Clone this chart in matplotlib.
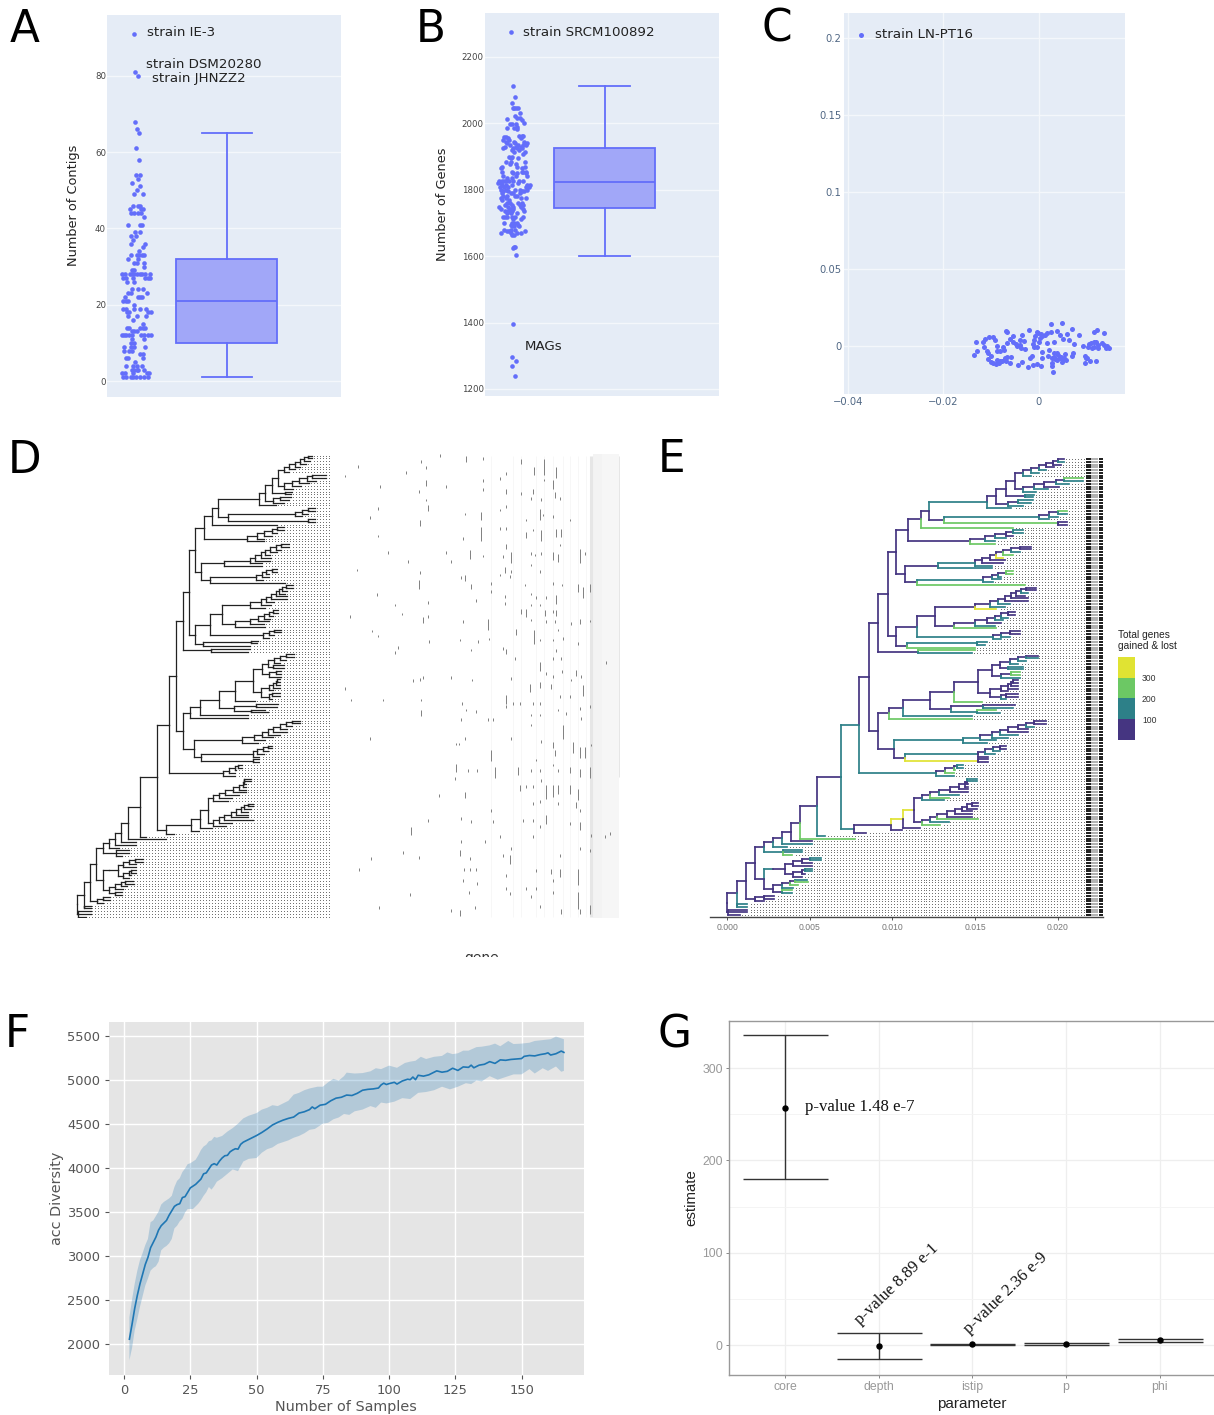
# composite figure, panels A-G
import numpy as np
import matplotlib
matplotlib.use('Agg')
import matplotlib.pyplot as plt
from matplotlib.colors import ListedColormap
from matplotlib.patches import Rectangle

W, H = 1214, 1415

# --- panel A: contigs per genome, value -> strip offsets
A_strip = {91: [-4], 81: [0], 80: [8], 68: [0], 66: [7], 65: [13], 61: [2], 58: [13], 54: [4, 14], 53: [9], 52: [-9],
           51: [16], 50: [6], 49: [-4, 25], 46: [-5, 8, 14], 45: [-14, 18, 23], 44: [-13, -2, 10, 18], 43: [28],
           41: [-22, 14, 20], 39: [0, 14], 38: [-12, 3], 37: [-5], 36: [-11, 30], 35: [25], 34: [12],
           33: [-11, 5, 12, 20, 28], 32: [-21, 10], 31: [-3, 5, 27], 30: [28], 29: [-10, -2],
           28: [-38, -30, -14, -8, -3, 5, 14, 22, 30, 44], 27: [-35, -28, -5, 30, 38, 46], 26: [-25, -2],
           24: [-10, 9, 25], 23: [-22, -11, 35], 22: [-30, 8, 14, 22], 21: [-35, -28, -22], 20: [-2],
           19: [-35, -27, -2, 15, 33], 18: [-25, -18, 40, 48], 17: [-22, 6, 32], 16: [-5], 15: [24],
           14: [-25, -18, 16, 24, 30], 13: [-10, -2, 5], 12: [-40, -33, -26, -18, -8, 18, 28, 40, 48], 11: [-8, 28],
           10: [-12, -2], 9: [-32, -12, -3, 30], 8: [-32, -18, -8], 7: [14, 23], 6: [-27, -20, 24], 5: [0],
           4: [-28, -5, 5, 20], 3: [-10, -3, 5, 10, 26], 2: [-40, -30, -5, 35, 42],
           1: [-35, -28, -12, -5, 2, 15, 28, 38]}
A_box = dict(whislo=1, q1=10, med=21, q3=32, whishi=65, fliers=[])
A_ticks = [0, 20, 40, 60, 80]

# --- panel B: genes per genome
B_strip = {2274: [-6], 2114: [-2], 2079: [6], 2060: [-3], 2047: [-2, 3], 2045: [8, 13], 2030: [20], 2021: [5],
           2015: [11, 20], 2012: [-20], 2010: [25], 2001: [33], 1999: [-10, -3, 8], 1990: [10], 1985: [-20, 2],
           1982: [12], 1962: [18, 25, 30], 1958: [-28, -22], 1955: [-16, 22], 1950: [-30, -12], 1945: [-22, 2, 33],
           1940: [-18, 5, 40], 1935: [-10, 15, 30, 38], 1930: [-25, 8, 22], 1925: [-30, -2, 12, 25], 1920: [-5, 18],
           1915: [3, 35], 1908: [28], 1900: [-12, -5], 1895: [-8, 15], 1885: [-22, -8, 35], 1878: [-10, 8],
           1870: [-33, 10, 35], 1865: [-36, 25], 1855: [-35, -5, 25, 30, 38], 1850: [0, 12, 38], 1843: [-30, 8, 42],
           1835: [-20, -5], 1828: [-22, 18, 28], 1825: [-42, -35, -28, -12, 0], 1820: [-45, -38, 15],
           1815: [-35, -22, -5, 50, 42], 1808: [-40, -28, -15, 38, 48], 1800: [-38, -22, 5, 20, 42],
           1795: [-30, -15, 25, 32], 1790: [-35, -8, -2, 20], 1780: [-30, -20, 5, 12], 1775: [-38, -22, 22, 38],
           1770: [-35, -12], 1760: [-18, -10, 15, 25], 1755: [-25, -5, 20, 30], 1748: [-42, -15, -2, 22],
           1742: [-36, -10, 0, 28], 1735: [-25, -15, -5, 32], 1730: [-20, -8, 10], 1718: [-30, -25, -18, -3, 5, 28],
           1712: [0, 24], 1700: [-28, -5, 3, 10], 1695: [-8, -2, 15], 1690: [-3, 2, 18], 1680: [-28, -8, 5],
           1675: [-18, -12, 35], 1670: [-38, -8, 10, 22], 1665: [-3, 3], 1628: [2, 6], 1626: [-2], 1603: [7],
           1397: [0], 1295: [-5], 1285: [8], 1270: [-3], 1238: [6]}
B_box = dict(whislo=1602, q1=1745, med=1823, q3=1927, whishi=2114, fliers=[])
B_ticks = [1200, 1400, 1600, 1800, 2000, 2200]

# --- panel C: PCoA, values in 1e-3
C_x = [-37.3, -13.6, -12.9, -13.2, -11.4, -11.6, -11.2, -10.5, -9.6, -9.1, -10.9, -10.6, -10, -10.6, -10, -8.8, -8.3,
       -7.7, -7.3, -7.4, -8.7, -8.8, -8.1, -6.6, -6, -5.3, -6.9, -6.6, -3.4, -5.9, -6.7, -6.1, -6.8, -4.3, -3.4, -5.3,
       -4.6, -3.9, -3.6, -2.9, -2.1, -2.2, -1.1, -0.3, 0.4, -1.8, -1.3, -1, -0.3, -1, -0.7, -0.4, -0.1, 0.8, 1.7, 2.5,
       2.6, 4.9, 3.9, 4.5, 5.2, 6, 7, 8.4, 7.4, 6.4, 3.2, 1.8, 0.1, 0.8, 0.8, 2.2, 2, 2.7, 3.8, 3.2, 4.1, 2.7, 2.9, 3,
       3.8, 4.8, 5.7, 4.7, 5.6, 7, 7.3, 9.2, 10.4, 10.9, 11.5, 12, 12.5, 13.2, 13.6, 14.1, 14.7, 11.7, 12.3, 13.7, 9.8,
       10.2, 9.8, 10.8, 12, 11.1, 3.3, 3.5, 4.4, 5, 5.4, -9.5, -9, -8, -7, -7, -4.8, -4, -3, -1.2, 0.3, 0.5, 1.3, 10.5,
       11.5, 12.5, 14.3, 10]
C_y = [202.4, -5.7, -3, 2.4, -0.4, 2.4, 4.8, 5.7, 6, 3.9, -3, -4.8, -6.5, -8.7, -10.4, -9.1, -11.3, -9.6, -2.6, -0.4, 0,
       -3, -3, 2.2, 4.3, 6.5, 9.6, 8.9, 7, -7, -7.4, -11.3, -9.6, -12.4, -10.7, 2.8, 0, 3.9, -1.1, -2.2, 10.4, -13.5,
       -12.4, -12, -13, -7.6, -6.3, -0.4, -0.4, 3.9, 6.5, 9.3, 8.3, 6.5, 8.3, 9.3, 14.3, 14.8, 10, 7.2, 4.3, 7.6, 10.9,
       7.2, 1.3, 3.9, 2.4, 1.7, 2.8, -4.1, -7.6, -2.6, -6.5, -7.6, -4.8, -4.8, -5.9, -11.3, -12.8, -17.2, -9.1, -10.2,
       -9.1, -7, -5.2, -6.5, -4.3, 0.2, -0.4, 1.7, 2.8, 2.8, -1.5, 1.7, 0.7, -1.1, -1.1, 9.4, 10.2, 8.3, -6.5, -8,
       -11.3, -9.8, -9.6, -1.5, -7, -8.5, -8, -8.7, -7.5, -10.8, -12, -10, -9, -7.5, 1.5, 0.5, 3, 1.2, 5, 8, 7, 1, -0.5,
       0.8, -0.2, -7.5]
C_yticks = [0, 0.05, 0.1, 0.15, 0.2]
C_ylabels = ['0', '0.05', '0.1', '0.15', '0.2']
C_xticks = [-0.04, -0.02, 0]
C_xlabels = ['\u22120.04', '\u22120.02', '0']

# --- panels D and E: core gene tree. depth in 1e-3 substitutions.
# leaf = (depth, colour), node = (depth, colour, [children]), children top to bottom
P, T, G, Y = 0, 1, 2, 3
gain_colors = ['#453581', '#2d8088', '#6cc864', '#e0e333']
gain_levels = [100, 200, 300]


def ladder(spine, tips, stem=P):
    # spine nodes going up and right, one tip drops off each of them
    node = (spine[-1], P, [tips[0], tips[1]])
    for i in range(len(spine) - 2, -1, -1):
        node = (spine[i], P, [node, tips[len(spine) - i]])
    return (node[0], stem, node[2])


top1 = ladder([17.9, 18.4, 18.9, 19.3, 19.7, 20.0],
              [(20.4, P), (20.4, T), (20.2, P), (19.8, P), (19.3, T), (18.9, T), (18.4, T)])
top2 = ladder([17.9, 18.6, 19.2, 19.9, 20.4],
              [(21.55, G), (21.55, T), (20.7, T), (20.1, P), (19.4, T), (18.7, T)])
c03a = (18.0, P, [(18.6, T), (18.5, T)])
c03b = ladder([17.0, 17.6], [(18.5, T), (18.4, T), (17.9, T)])
n17 = (17.4, P, [top1, top2])
n169 = (16.9, P, [n17, c03a])
n163 = (16.3, P, [n169, c03b])
n157 = (15.75, T, [n163, (17.2, T)])
c04up = ladder([18.9, 19.5, 20.0], [(20.6, G), (20.6, T), (20.0, T), (19.5, T)], stem=T)
c04 = (13.1, P, [c04up, (20.0, G, [(20.6, P), (20.6, P)])])
n122 = (12.2, P, [n157, c04])
n117 = (11.7, P, [n122, (17.3, G)])
c06up = ladder([15.6, 16.2, 16.9, 17.3], [(17.9, T), (17.9, T), (17.3, P), (16.9, T), (16.2, T)])
c06 = (14.7, P, [c06up, (16.2, G)])
n1095 = (10.95, P, [n117, c06])
c07up = ladder([15.0, 15.4, 15.9, 16.3, 16.7, 17.2, 17.7],
               [(18.4, P), (18.4, P), (17.7, T), (17.3, G), (16.7, Y), (16.8, P), (16.7, P), (16.0, T)], stem=T)
c07 = (12.76, P, [c07up, (16.0, T)])
c08up = ladder([15.5, 16.0, 16.4, 16.9], [(17.3, G), (17.3, G), (16.6, T), (16.6, T), (16.1, T)], stem=T)
c08 = (11.5, P, [c08up, (18.0, G)])
n1077 = (10.77, P, [c07, c08])
n1024 = (10.24, P, [n1095, n1077])
c09 = ladder([15.0, 15.9, 16.4, 16.8, 17.2, 17.5, 17.8, 18.1],
             [(18.7, P), (18.7, P), (18.2, T), (18.0, P), (18.2, P), (18.2, P), (17.1, T), (16.8, T), (16.3, Y)])
c10up = ladder([15.0, 15.7, 16.2, 16.6, 17.0],
               [(17.4, P), (17.4, P), (17.0, T), (16.7, T), (16.6, P), (16.2, T)])
c10 = (13.7, P, [c10up, (16.3, G)])
n1256 = (12.56, P, [c09, c10])
c11 = ladder([16.1, 16.6, 17.1], [(17.7, P), (17.7, P), (17.1, T), (16.6, T)], stem=T)
n115 = (11.5, P, [n1256, c11])
c12 = (10.9, P, [(15.1, T, [(15.7, T), (15.6, T)]), (15.0, G)])
n1024b = (10.24, P, [n115, c12])
n97 = (9.7, P, [n1024, n1024b])
c_lone = (11.57, P, [(15.0, G), (14.8, T)])
n915 = (9.15, P, [n97, c_lone])
u1 = ladder([17.1, 17.6, 18.1], [(18.8, P), (18.8, T), (18.1, T), (17.6, T)])
u2 = (17.0, P, [(17.9, T), (17.9, T)])
u3 = ladder([16.6, 17.2], [(17.7, G), (17.7, G), (17.7, T)])
c13up = (16.0, P, [(16.5, P, [u1, u2]), u3])
c13low1 = ladder([16.6, 17.0, 17.2, 17.3], [(17.6, P), (17.6, P), (17.6, P), (17.6, P), (17.0, P)])
c13low2 = ladder([16.6, 16.9], [(17.6, P), (17.6, P), (16.9, T)])
c13low = (15.9, P, [c13low1, c13low2])
c13a = (13.7, P, [(15.2, P, [c13up, c13low]), (15.4, G)])
c13b = (13.57, P, [(15.5, P, [(17.4, P), (17.3, T)]), (15.1, T, [(16.3, G), (16.5, T)])])
n1226 = (12.26, P, [c13a, c13b])
n1065 = (10.65, P, [n1226, (14.8, T)])
n98 = (9.8, P, [n1065, (14.8, G)])
c14a_up = ladder([15.3, 16.0, 16.5, 17.0, 17.6, 18.1, 18.6],
                 [(19.3, P), (19.3, P), (18.6, T), (18.2, P), (18.2, P), (17.6, T), (17.0, T), (16.3, T)], stem=T)
c14a = (14.3, T, [c14a_up, (15.7, T)])
c14b_up = ladder([15.2, 15.6, 16.1, 16.5], [(16.9, P), (16.9, P), (16.5, T), (16.2, T), (15.8, P)], stem=T)
c14b = (10.75, P, [c14b_up, (15.2, Y, [(15.8, P), (15.8, P)])])
n101 = (10.1, P, [c14a, c14b])
n915b = (9.15, P, [n98, n101])
n86 = (8.6, P, [n915, n915b])
c15 = ladder([12.66, 13.2, 13.7, 13.9], [(14.3, T), (14.3, T), (13.8, G), (13.7, G), (13.7, T)], stem=T)
n796 = (7.96, T, [n86, c15])
c16 = ladder([11.8, 12.3, 12.8, 13.5, 14.0, 14.4, 14.5, 14.5],
             [(15.1, T), (15.1, T), (14.6, P), (14.6, P), (14.6, P), (14.6, P), (14.0, T), (13.4, G), (13.1, T)])
c17 = ladder([11.8, 12.3, 12.7, 13.3, 13.8, 14.2, 14.5, 14.8],
             [(15.2, P), (15.2, P), (15.1, P), (14.8, P), (14.8, P), (14.8, P), (15.2, G), (13.4, T), (12.9, G)])
n113 = (11.3, Y, [c16, c17])
n1065b = (10.65, Y, [n113, (11.65, P)])
n99 = (9.9, P, [n1065b, (10.6, P)])
n77 = (7.7, T, [n99, (8.4, P)])
n69 = (6.9, P, [n796, n77])
n54 = (5.4, P, [n69, (5.93, T)])
n44 = (4.4, P, [n54, (7.72, G)])
n383 = (3.83, P, [n44, (5.1, P)])
n329 = (3.29, P, [n383, (5.1, T)])
n274 = (2.74, P, [n329, (3.6, T)])
n222 = (2.22, P, [n274, (3.39, T, [(4.5, T), (4.5, T), (3.9, G)])])
low_up1 = ladder([4.0, 4.5, 5.0], [(5.7, T), (5.7, T), (5.1, P), (5.1, P)])
low_up2 = ladder([4.0, 4.5, 4.7], [(5.1, T), (5.1, T), (4.7, P), (4.5, P)])
c_up = (2.74, T, [(3.49, P, [low_up1, low_up2])])
c_low = (2.74, P, [ladder([3.3, 3.8, 4.1], [(4.8, T), (4.9, G), (4.3, G), (4.0, T)]),
                   (3.3, P, [(3.9, G), (3.9, T)])])
n22b = (2.2, P, [c_up, c_low])
n165 = (1.65, P, [n222, n22b])
c_b3 = (1.67, P, [(2.2, P, [(2.8, P), (2.8, P)]), (2.2, P)])
n111 = (1.11, P, [n165, c_b3])
n056 = (0.56, P, [n111, (0.57, T, [(1.17, T), (1.17, T)])])
tree = (0.0, P, [n056, (0.03, P, [(1.17, P), (1.17, P), (0.75, P)])])

E_ticks = [0, 5, 10, 15, 20]
E_ticklabels = ['0.000', '0.005', '0.010', '0.015', '0.020']
tip_end = 21.75

# --- panel D heatmap, gene position and sample position on the scan, span in rows
heat_gene = [55, 15, 243, 258, 200, 300, 378, 430, 122, 260, 238, 320, 430, 430, 115, 265, 90, 258, 425, 377, 240, 115,
             425, 370, 145, 390, 320, 430, 205, 335, 52, 240, 238, 375, 363, 395, 453, 453, 113, 165, 265, 410, 32, 186,
             250, 265, 445, 370, 97, 115, 267, 360, 415, 447, 395, 175, 165, 250, 240, 220, 335, 397, 15, 130, 35, 243,
             243, 368, 410, 380, 365, 445, 460, 90, 350, 358, 375, 455, 350, 385, 413, 465, 345, 375, 297, 453, 215, 265,
             395, 365, 460, 480, 437, 365, 362, 390, 95, 190, 238, 57, 372, 390, 410, 370, 413, 388, 210, 118, 360, 405,
             333,
             500, 545, 583, 613, 648, 480, 640, 612, 580, 500, 545, 575, 605, 645, 660, 500, 600, 610, 480, 560, 640, 690,
             480, 500, 560, 605, 580, 650, 665, 500, 515, 575, 585, 605, 640, 655, 660, 720, 735, 490, 495, 515, 510, 480,
             575, 600, 555, 640, 668, 715, 730, 750, 495, 495, 575, 590, 618, 650, 600, 575, 545, 560, 615, 640, 650, 575,
             620, 645, 695, 720, 752, 530, 582, 655, 600, 640, 670, 715, 490, 500, 525, 600, 600, 640, 650, 665, 620, 640,
             668, 710, 725, 515, 570, 600, 635, 695, 730, 660, 690, 498, 498, 520, 540, 580, 600, 655, 720, 750, 575, 600,
             680, 725, 573, 670, 515, 605, 640, 645, 700, 720, 735, 755, 590, 535, 575, 600, 640, 655, 690, 720, 750, 540,
             560, 580, 605, 620, 640, 655, 690, 715, 580, 600, 655, 710, 720, 620, 600, 550, 580, 690, 720, 755, 810, 795,
             580, 720, 750, 515, 490, 510, 660, 635, 660, 715, 500, 640, 590, 500, 560, 590, 510, 575, 640, 715, 600, 720,
             665, 750, 800]
heat_row = [80, 108, 65, 82, 98, 47, 52, 55, 140, 125, 155, 140, 122, 148, 205, 200, 232, 180, 220, 222, 245, 288,
            265, 295, 338, 335, 338, 348, 365, 365, 390, 397, 425, 410, 412, 435, 430, 455, 463, 495, 488, 482, 530, 522,
            535, 530, 540, 545, 573, 588, 605, 600, 605, 597, 630, 622, 638, 712, 718, 722, 712, 720, 745, 780, 780, 780,
            815, 790, 815, 810, 838, 838, 838, 895, 912, 912, 895, 935, 975, 990, 990, 985, 1015, 1060, 1065, 1112, 1165,
            1140, 1145, 1135, 1145, 1190, 1205, 1205, 1235, 1255, 1255, 1238, 1253, 1287, 1287, 1287, 1287, 1322, 1330,
            1358, 1362, 1403, 1415, 1403, 1412,
            100, 60, 85, 60, 85, 115, 125, 120, 150, 150, 160, 175, 178, 160, 175, 200, 210, 225, 210, 240, 230, 240,
            265, 265, 280, 275, 270, 270, 270, 315, 340, 340, 345, 340, 340, 345, 315, 330, 340, 350, 385, 395, 410, 405,
            375, 395, 435, 430, 435, 435, 445, 435, 470, 490, 462, 472, 472, 470, 495, 495, 510, 510, 515, 515, 515, 540,
            545, 545, 550, 540, 543, 572, 575, 570, 600, 600, 595, 610, 625, 630, 655, 670, 690, 655, 632, 655, 700, 710,
            695, 695, 710, 715, 735, 730, 735, 720, 740, 770, 770, 770, 800, 790, 790, 790, 790, 810, 805, 800, 825, 825,
            820, 835, 855, 860, 895, 905, 910, 935, 910, 925, 925, 915, 960, 985, 990, 990, 975, 990, 985, 990, 985, 1040,
            1040, 1040, 1020, 1040, 1040, 1040, 1040, 1050, 1090, 1085, 1090, 1090, 1110, 1130, 1160, 1140, 1140, 1150,
            1150, 1185, 1180, 1190, 1188, 1225, 1230, 1225, 1245, 1250, 1245, 1290, 1290, 1290, 1305, 1320, 1290, 1345,
            1345, 1345, 1360, 1370, 1358, 1360, 1400, 1410, 1410, 1400, 668]
heat_span = {(378, 52): 2, (260, 125): 2, (265, 200): 2, (425, 220): 3, (240, 245): 2, (425, 265): 5, (390, 335): 3,
             (238, 425): 3, (375, 410): 2, (395, 435): 2, (250, 535): 2, (445, 540): 4, (243, 815): 2, (455, 935): 4,
             (350, 975): 3, (465, 985): 4, (375, 1060): 2, (215, 1165): 3, (362, 1235): 2, (360, 1415): 2, (545, 60): 2,
             (583, 85): 3, (613, 60): 6, (648, 85): 4, (640, 125): 3, (580, 150): 2, (500, 150): 2, (645, 160): 2,
             (600, 210): 4, (560, 280): 2, (605, 275): 4, (650, 270): 3, (665, 270): 3, (500, 315): 2, (515, 340): 4,
             (640, 340): 3, (655, 345): 3, (720, 330): 5, (495, 385): 2, (715, 435): 3, (730, 445): 4, (750, 435): 3,
             (650, 470): 3, (545, 510): 2, (560, 510): 3, (615, 515): 2, (650, 515): 2, (720, 540): 2, (530, 572): 2,
             (582, 575): 5, (500, 630): 2, (600, 670): 3, (710, 695): 2, (570, 735): 3, (600, 730): 2, (635, 735): 2,
             (730, 740): 4, (498, 770): 3, (670, 860): 5, (640, 910): 2, (645, 935): 2, (700, 910): 4, (720, 925): 4,
             (735, 925): 4, (535, 985): 3, (690, 985): 2, (720, 990): 3, (750, 985): 4, (540, 1040): 2, (620, 1040): 5,
             (640, 1040): 4, (655, 1040): 3, (690, 1040): 3, (715, 1050): 4, (710, 1090): 2, (620, 1130): 3,
             (720, 1150): 3, (510, 1250): 3, (635, 1290): 2, (660, 1290): 3, (715, 1290): 6, (715, 1360): 6,
             (720, 1410): 2, (665, 1410): 2, (750, 1400): 3}
heat_faint = [545, 590, 520, 640, 670, 690, 715, 740, 455, 612]

# --- panel F: rarefaction curve
F_x = [2, 3, 4, 5, 6, 7, 8, 9, 10, 11, 12, 13, 14, 15, 16, 17, 18, 19, 20, 21, 22, 23, 24, 25, 26, 27, 28, 29, 30, 31,
       32, 33, 34, 35, 36, 37, 38, 39, 40, 41, 42, 43, 44, 45, 46, 47, 48, 50, 52, 54, 56, 58, 60, 62, 64, 66, 68, 70,
       71, 72, 74, 76, 78, 80, 82, 84, 86, 88, 90, 92, 94, 96, 97, 98, 99, 100, 102, 103, 105, 107, 108, 109, 110, 111,
       113, 115, 117, 118, 120, 122, 124, 126, 128, 130, 131, 132, 134, 136, 138, 140, 142, 144, 146, 148, 150, 151,
       153, 155, 157, 159, 160, 161, 163, 165, 166]
F_mean = [2050, 2220, 2400, 2550, 2680, 2790, 2900, 2980, 3090, 3150, 3210, 3290, 3340, 3370, 3400, 3460, 3510, 3560,
          3580, 3590, 3660, 3670, 3720, 3770, 3790, 3810, 3840, 3870, 3930, 3940, 3985, 4030, 4045, 4030, 4075, 4110,
          4135, 4140, 4180, 4200, 4215, 4210, 4265, 4290, 4305, 4320, 4335, 4365, 4400, 4440, 4485, 4515, 4540, 4560,
          4575, 4620, 4635, 4660, 4690, 4670, 4710, 4720, 4760, 4790, 4800, 4825, 4820, 4845, 4880, 4890, 4895, 4905,
          4940, 4960, 4945, 4955, 4970, 4950, 4985, 5005, 5000, 5030, 5000, 5050, 5040, 5055, 5085, 5100, 5085, 5095,
          5130, 5105, 5145, 5140, 5165, 5135, 5165, 5175, 5205, 5185, 5225, 5220, 5230, 5235, 5240, 5265, 5275, 5270,
          5285, 5295, 5305, 5280, 5295, 5325, 5310]
F_up_x = [2, 3, 4, 5, 6, 7, 8, 9, 10, 11, 12, 13, 14, 15, 16, 17, 18, 19, 20, 21, 22, 23, 24, 25, 26, 27, 28, 29, 30, 31,
          32, 33, 34, 35, 37, 39, 41, 43, 45, 47, 50, 52, 54, 56, 58, 60, 62, 64, 66, 68, 70, 73, 75, 77, 79, 81, 83, 84,
          87, 90, 93, 95, 97, 100, 103, 106, 108, 110, 112, 114, 117, 120, 122, 124, 126, 128, 130, 133, 135, 138, 140,
          142, 145, 147, 150, 153, 155, 158, 161, 163, 165, 166]
F_up = [2300, 2500, 2680, 2830, 2950, 3030, 3120, 3190, 3380, 3400, 3450, 3500, 3580, 3610, 3630, 3650, 3680, 3780,
        3850, 3880, 3950, 3990, 4040, 4050, 4070, 4090, 4140, 4200, 4240, 4260, 4300, 4310, 4350, 4340, 4360, 4410,
        4450, 4500, 4560, 4590, 4620, 4660, 4680, 4710, 4700, 4730, 4760, 4830, 4850, 4880, 4900, 4920, 4920, 4970,
        5010, 4990, 5040, 5080, 5070, 5075, 5095, 5130, 5120, 5160, 5135, 5190, 5205, 5215, 5260, 5235, 5260, 5270,
        5310, 5290, 5300, 5330, 5330, 5370, 5375, 5390, 5410, 5380, 5440, 5405, 5410, 5420, 5440, 5450, 5460, 5490,
        5470, 5460]
F_low_x = [2, 3, 4, 5, 6, 7, 8, 9, 10, 11, 12, 13, 14, 15, 16, 17, 18, 19, 20, 21, 22, 23, 24, 25, 26, 27, 28, 29, 30,
           31, 32, 33, 34, 35, 37, 39, 41, 43, 45, 47, 50, 52, 54, 56, 58, 60, 62, 64, 66, 68, 70, 72, 75, 77, 79, 81,
           83, 85, 87, 90, 93, 95, 97, 99, 102, 105, 108, 111, 114, 117, 120, 123, 126, 129, 131, 133, 135, 138, 141,
           144, 147, 150, 153, 155, 158, 160, 163, 165, 166]
F_low = [1810, 1950, 2150, 2280, 2420, 2540, 2660, 2740, 2830, 2860, 2880, 2930, 3060, 3090, 3110, 3140, 3190, 3310,
         3340, 3390, 3420, 3490, 3530, 3530, 3530, 3560, 3590, 3630, 3680, 3720, 3780, 3750, 3790, 3840, 3880, 3930,
         3980, 3960, 4070, 4100, 4110, 4170, 4210, 4230, 4270, 4290, 4310, 4340, 4360, 4390, 4430, 4440, 4500, 4510,
         4550, 4570, 4610, 4600, 4640, 4660, 4700, 4680, 4740, 4730, 4750, 4790, 4780, 4850, 4860, 4880, 4920, 4890,
         4920, 4960, 4950, 4990, 4980, 5040, 5000, 5030, 5060, 5060, 5120, 5070, 5130, 5100, 5150, 5090, 5100]
F_xticks = [0, 25, 50, 75, 100, 125, 150]
F_yticks = [2000, 2500, 3000, 3500, 4000, 4500, 5000, 5500]

# --- panel G: model parameters
G_params = ['core', 'depth', 'istip', 'p', 'phi']
G_est = [257, -1, 1, 1.5, 5]
G_low = [180, -15, 0, 0.5, 3.5]
G_high = [336, 13, 1.5, 2.2, 6.5]
G_yticks = [0, 100, 200, 300]
G_yminor = [50, 150, 250]


def add_ax(x0, y0, x1, y1):
    # axes from pixel box, y counted from the top
    return fig.add_axes([x0 / W, 1 - y1 / H, (x1 - x0) / W, (y1 - y0) / H])


def ptext(x, y, s, **kw):
    return fig.text(x / W, 1 - y / H, s, **kw)


def expand(strip):
    xs = [j for v, js in strip.items() for j in js]
    ys = [v for v, js in strip.items() for j in js]
    return xs, ys


def plotly_box(ax, strip, box, center, width, ticks):
    ax.set_facecolor('#e5ecf6')
    for s in ax.spines.values():
        s.set_visible(False)
    ax.yaxis.grid(True, color='#f4f7fb', lw=1)
    ax.set_axisbelow(True)
    ax.set_xticks([])
    ax.set_yticks(ticks)
    ax.tick_params(axis='y', length=0, labelsize=6.2, labelcolor='#444444', pad=1)
    xs, ys = expand(strip)
    ax.scatter(xs, ys, s=11, color='#636efa', lw=0, zorder=3)
    art = ax.bxp([box], positions=[center], widths=[width], capwidths=[width / 2], patch_artist=True, showfliers=False,
                 manage_ticks=False, boxprops=dict(facecolor='#a1a7f8', edgecolor='#636efa', lw=1.3),
                 medianprops=dict(color='#636efa', lw=1.3), whiskerprops=dict(color='#636efa', lw=1.3),
                 capprops=dict(color='#636efa', lw=1.3))
    for k in art:
        for a in art[k]:
            a.set_zorder(4)


def layout(node, rows):
    # walk the tree, tips get the next row, nodes sit between first and last child
    if len(node) == 2:
        y = len(rows)
        rows.append(node)
        return node[0], y, []
    placed = [layout(k, rows) for k in node[2]]
    y = (placed[0][1] + placed[-1][1]) / 2
    segs = []
    for kid, (kx, ky, ksegs) in zip(node[2], placed):
        segs.append((node[0], ky, y, kx, kid[1]))
        segs.extend(ksegs)
    return node[0], y, segs


def draw_tree(ax, segs, rows, lw, colors, dot_step):
    for px, ky, y, kx, c in segs:
        col = colors[c]
        ax.plot([px, px], [y, ky], color=col, lw=lw, solid_capstyle='projecting', zorder=3)
        ax.plot([px, kx], [ky, ky], color=col, lw=lw, solid_capstyle='projecting', zorder=3)
    grid = np.arange(0, tip_end + dot_step, dot_step)
    for i, leaf in enumerate(rows):
        g = grid[grid > leaf[0] + dot_step / 2]
        ax.plot(g, [i] * len(g), ls='', marker='.', ms=1.5, mew=0, color='#555555', zorder=1)


fig = plt.figure(figsize=(W / 100, H / 100), dpi=100, facecolor='white')

# panel letters
for s, x, y in [('A', 10, 42), ('B', 416, 42), ('C', 761, 42), ('D', 8, 473), ('E', 658, 472), ('F', 5, 1047),
                ('G', 658, 1047)]:
    ptext(x, y, s, fontsize=31.5, color='black', va='baseline', family='DejaVu Sans')

# A
axA = add_ax(107.3, 14.7, 341.3, 396.7)
plotly_box(axA, A_strip, A_box, 276, 303, A_ticks)
axA.set_xlim(-83, 619)
axA.set_ylim(-4.1, 96)
ptext(73, 205, 'Number of Contigs', fontsize=9.3, rotation=90, ha='center', va='center', color='#222222')
ptext(147, 33, 'strain IE-3', fontsize=9.6, va='center', color='#222222')
ptext(146, 64, 'strain DSM20280', fontsize=9.6, va='center', color='#222222')
ptext(152, 78.5, 'strain JHNZZ2', fontsize=9.6, va='center', color='#222222')

# B
axB = add_ax(485, 13.3, 719, 395.7)
plotly_box(axB, B_strip, B_box, 274, 303, B_ticks)
axB.set_xlim(-85, 617)
axB.set_ylim(1200 - 6.7 / 0.332, 2200 + 43.7 / 0.332)
ptext(442, 204, 'Number of Genes', fontsize=9.3, rotation=90, ha='center', va='center', color='#222222')
ptext(523, 33, 'strain SRCM100892', fontsize=9.6, va='center', color='#222222')
ptext(525, 346, 'MAGs', fontsize=9.6, va='center', color='#222222')

# C
axC = add_ax(844, 13, 1125, 394)
axC.set_facecolor('#e5ecf6')
for s in axC.spines.values():
    s.set_visible(False)
axC.grid(True, color='#f4f7fb', lw=1)
axC.set_axisbelow(True)
axC.scatter(np.array(C_x) / 1000, np.array(C_y) / 1000, s=13, color='#636efa', lw=0, zorder=3)
axC.set_xlim(-0.0408, 0.0181)
axC.set_ylim(-0.0312, 0.2165)
axC.set_xticks(C_xticks)
axC.set_xticklabels(C_xlabels)
axC.set_yticks(C_yticks)
axC.set_yticklabels(C_ylabels)
axC.tick_params(length=0, labelsize=7.2, labelcolor='#506784', pad=2)
ptext(875, 34, 'strain LN-PT16', fontsize=9.6, va='center', color='#222222')

# D and E tree
rows = []
_, _, segs = layout(tree, rows)
print(len(rows), 'tips')

axD = add_ax(70, 454.3, 330, 918.1)
axD.axis('off')
axD.set_xlim(-0.63, 21.92)
axD.set_ylim(len(rows) - 1 + 0.5, -0.5)
draw_tree(axD, segs, rows, 0.9, ['#222222'] * 4, 0.26)

axH = add_ax(343, 454.3, 620, 918.1)
axH.axis('off')
axH.set_xlim(10, 841)
axH.set_ylim(1434, 43)
axH.axvspan(760, 786, color='#f3f3f3', lw=0)
axH.axvspan(786, 838, color='#f6f6f6', lw=0)
axH.vlines([755], 47, 1430, color='#e6e6e6', lw=2.2)
axH.vlines([838], 47, 1010, color='#e2e2e2', lw=0.6)
axH.vlines(heat_faint, 47, 1430, color='#f7f7f7', lw=0.7)
for g, r in zip(heat_gene, heat_row):
    n = heat_span.get((g, r), 1)
    axH.vlines(g, r - 4, r - 4 + n * 8.33, color='#808080', lw=0.7)

ptext(481.5, 962, 'gene', fontsize=10, ha='center', va='baseline', color='#333333', family='DejaVu Sans', zorder=3)
fig.add_artist(Rectangle((0, 1 - 990 / H), 1, 33.5 / H, transform=fig.transFigure, color='white', lw=0, zorder=4))

axE = add_ax(710, 455, 1103, 916.7)
for k in ['top', 'left', 'right']:
    axE.spines[k].set_visible(False)
axE.spines['bottom'].set_color('#444444')
axE.spines['bottom'].set_linewidth(1)
axE.set_xlim(-1.05, 22.75)
axE.set_ylim(len(rows) - 1 + 0.62, -1.57)
axE.set_yticks([])
axE.set_xticks(E_ticks)
axE.set_xticklabels(E_ticklabels)
axE.tick_params(axis='x', length=2.5, width=0.7, color='#555555', labelsize=6.2, labelcolor='#777777', pad=2)
for lab in axE.get_xticklabels():
    lab.set_family('Liberation Sans')
draw_tree(axE, segs, rows, 1.25, gain_colors, 0.18)
tip_rows = np.arange(len(rows))
axE.hlines(tip_rows, 21.72, 22.02, color='#1c1c1c', lw=1.4)
axE.hlines(tip_rows, 22.05, 22.45, color='#a5a5a5', lw=1.2)
axE.hlines(tip_rows, 22.5, 22.75, color='#1c1c1c', lw=1.4)

# E legend
axL = add_ax(1118, 657, 1135, 740)
axL.imshow(np.array([[3], [2], [1], [0]]), aspect='auto', cmap=ListedColormap(gain_colors), vmin=0, vmax=3,
           extent=[0, 1, 0, 400], interpolation='nearest')
axL.set_xticks([])
axL.yaxis.tick_right()
axL.set_yticks(gain_levels)
axL.tick_params(axis='y', length=0, labelsize=6.2, labelcolor='#333333', pad=5)
for lab in axL.get_yticklabels():
    lab.set_family('Liberation Sans')
for s in axL.spines.values():
    s.set_visible(False)
ptext(1118, 640.5, 'Total genes\ngained & lost', fontsize=7.3, family='Liberation Sans', color='#222222', va='center',
      linespacing=1.05)

# F
axF = add_ax(109, 1021.7, 583.5, 1375)
axF.set_facecolor('#e5e5e5')
for s in axF.spines.values():
    s.set_visible(False)
axF.grid(True, color='white', lw=1)
axF.set_axisbelow(True)
band_x = np.r_[F_up_x, F_low_x[::-1]]
band_y = np.r_[F_up, F_low[::-1]]
axF.fill(band_x, band_y, color='#1f77b4', alpha=0.25, lw=0)
axF.plot(F_x, F_mean, color='#1f77b4', lw=1.2)
axF.set_xlim(-5.7, 173.4)
axF.set_ylim(1643, 5659)
axF.set_xticks(F_xticks)
axF.set_yticks(F_yticks)
axF.tick_params(length=3, width=0.8, color='#555555', labelsize=9.4, labelcolor='#555555')
axF.set_xlabel('Number of Samples', fontsize=10.4, color='#555555', labelpad=2)
axF.set_ylabel('acc Diversity', fontsize=10.4, color='#555555', labelpad=2)

# G
axG = add_ax(729, 1021, 1214, 1375)
for k in ['top', 'left', 'bottom']:
    axG.spines[k].set_color('#999999')
    axG.spines[k].set_linewidth(1)
axG.spines['right'].set_visible(False)
xpos = np.arange(len(G_params))
est = np.array(G_est)
axG.errorbar(xpos, est, yerr=[est - np.array(G_low), np.array(G_high) - est], fmt='o', ms=3.6, color='black',
             ecolor='#333333', elinewidth=1, capsize=30.6, capthick=1, zorder=3)
axG.set_xlim(-0.6, 4.58)
axG.set_ylim(-32.5, 351)
axG.set_xticks(xpos)
axG.set_xticklabels(G_params)
axG.set_yticks(G_yticks)
axG.set_yticks(G_yminor, minor=True)
axG.grid(True, which='major', color='#eeeeee', lw=0.9)
axG.grid(True, which='minor', axis='y', color='#f3f3f3', lw=0.6)
axG.set_axisbelow(True)
axG.tick_params(which='minor', length=0)
axG.tick_params(length=2.5, width=0.7, color='#888888', labelsize=8.8, labelcolor='#999999', pad=2)
for lab in axG.get_xticklabels() + axG.get_yticklabels():
    lab.set_family('Liberation Sans')
axG.set_xlabel('parameter', fontsize=11, family='Liberation Sans', color='#222222', labelpad=3)
axG.set_ylabel('estimate', fontsize=10.8, family='Liberation Sans', color='#222222', labelpad=3)
ptext(805, 1107, 'p-value 1.48 e-7', fontsize=12.1, family='Liberation Serif', va='center', color='#111111')
ptext(860, 1325, 'p-value 8.89 e-1', fontsize=12.1, family='Liberation Serif', rotation=44, rotation_mode='anchor',
      va='baseline', color='#111111')
ptext(969, 1334, 'p-value 2.36 e-9', fontsize=12.1, family='Liberation Serif', rotation=44, rotation_mode='anchor',
      va='baseline', color='#111111')

fig.savefig('out.png', dpi=100)
